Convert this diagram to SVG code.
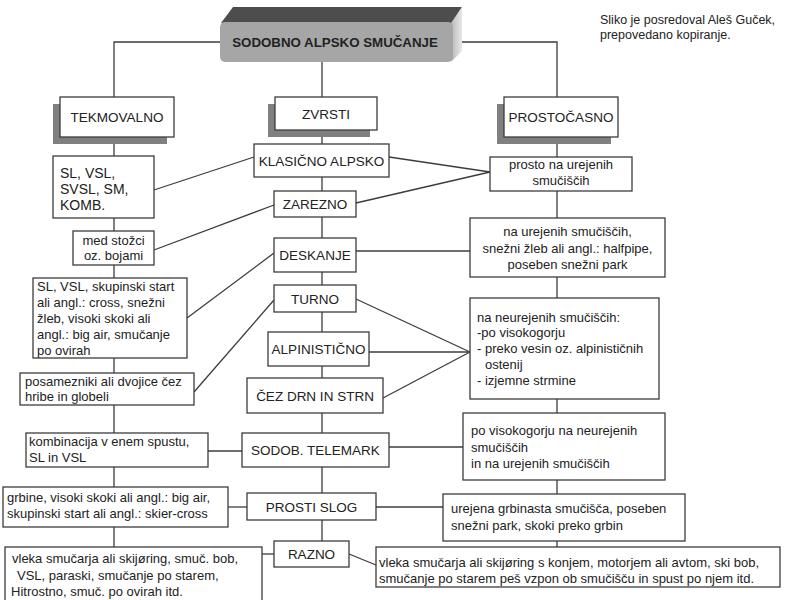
<svg xmlns="http://www.w3.org/2000/svg" width="796" height="600" viewBox="0 0 796 600">
<defs>
<linearGradient id="side" x1="0" y1="0" x2="1" y2="0">
<stop offset="0" stop-color="#b8b8b8"/><stop offset="1" stop-color="#e8e8e8"/>
</linearGradient>
<style>
.box{fill:#fff;stroke:#3c3c3c;stroke-width:1.3}
.sh{fill:#808080}
.c{fill:none;stroke:#3c3c3c;stroke-width:1.3}
text{font-family:"Liberation Sans",Arial,sans-serif;fill:#222}
.n{font-size:13.5px;text-anchor:middle}
.t{font-size:13px}
.m{font-size:13px;text-anchor:middle}
</style>
</defs>
<rect width="796" height="600" fill="#fff"/>
<g id="connectors">
<polyline class="c" points="220,42 114,42 114,97"/>
<polyline class="c" points="452,42 557,42 557,97"/>
<line class="c" x1="322" y1="62" x2="322" y2="97"/>
<line class="c" x1="114" y1="137" x2="114" y2="547"/>
<line class="c" x1="322" y1="130" x2="322" y2="541"/>
<line class="c" x1="557" y1="137" x2="557" y2="547"/>
<line class="c" x1="154" y1="190" x2="254" y2="157"/>
<line class="c" x1="154" y1="250" x2="274" y2="205"/>
<line class="c" x1="187" y1="318" x2="274" y2="253"/>
<line class="c" x1="194" y1="392" x2="274" y2="300"/>
<line class="c" x1="208" y1="451" x2="242" y2="451"/>
<line class="c" x1="228" y1="507" x2="247" y2="507"/>
<line class="c" x1="262" y1="554" x2="274" y2="554"/>
<line class="c" x1="389" y1="157" x2="490" y2="172"/>
<line class="c" x1="356" y1="203" x2="490" y2="172"/>
<line class="c" x1="356" y1="251" x2="470" y2="251"/>
<line class="c" x1="356" y1="299" x2="470" y2="352"/>
<line class="c" x1="369" y1="352" x2="470" y2="352"/>
<line class="c" x1="383" y1="398" x2="470" y2="352"/>
<line class="c" x1="389" y1="447" x2="463" y2="447"/>
<line class="c" x1="376" y1="507" x2="443" y2="507"/>
<line class="c" x1="349" y1="554" x2="376" y2="565"/>
</g>
<g id="root">
<polygon points="221,23 233,7 462,7 452,23" fill="#4d4d4d"/>
<polygon points="451,23 462,7 462,51 451,62" fill="url(#side)"/>
<rect x="220" y="22" width="233" height="40" rx="5" fill="#a6a6a6"/>
<text x="335" y="47" style="font-size:13.3px;font-weight:bold;text-anchor:middle">SODOBNO ALPSKO SMUČANJE</text>
</g>
<g id="watermark">
<text x="600" y="24" style="font-size:12.5px">Sliko je posredoval Aleš Guček,</text>
<text x="600" y="39" style="font-size:12.5px">prepovedano kopiranje.</text>
</g>
<g id="tekmovalno">
<rect class="sh" x="53" y="104" width="114" height="40"/>
<rect class="box" x="60" y="97" width="114" height="40"/>
<text class="n" x="117" y="122">TEKMOVALNO</text>
</g>
<g id="zvrsti">
<rect class="sh" x="268" y="104" width="102" height="33"/>
<rect class="box" x="275" y="97" width="102" height="33"/>
<text class="n" x="326" y="119">ZVRSTI</text>
</g>
<g id="prostocasno">
<rect class="sh" x="497" y="104" width="114" height="40"/>
<rect class="box" x="504" y="97" width="114" height="40"/>
<text class="n" x="561" y="122">PROSTOČASNO</text>
</g>
<g id="klasicno">
<rect class="box" x="254" y="144" width="135" height="33"/>
<text class="n" x="321.5" y="165.5">KLASIČNO ALPSKO</text>
</g>
<g id="zarezno">
<rect class="box" x="274" y="191" width="82" height="26"/>
<text class="n" x="315" y="209">ZAREZNO</text>
</g>
<g id="deskanje">
<rect class="box" x="274" y="238" width="82" height="34"/>
<text class="n" x="315" y="260">DESKANJE</text>
</g>
<g id="turno">
<rect class="box" x="274" y="285" width="82" height="27"/>
<text class="n" x="315" y="303.5">TURNO</text>
</g>
<g id="alpinisticno">
<rect class="box" x="268" y="332" width="101" height="34"/>
<text class="n" x="318.5" y="354">ALPINISTIČNO</text>
</g>
<g id="cez-drn">
<rect class="box" x="247" y="378" width="136" height="35"/>
<text class="n" x="315" y="400.5">ČEZ DRN IN STRN</text>
</g>
<g id="telemark">
<rect class="box" x="242" y="433" width="147" height="34"/>
<text class="n" x="315.5" y="455">SODOB. TELEMARK</text>
</g>
<g id="prosti-slog">
<rect class="box" x="247" y="493" width="129" height="27"/>
<text class="n" x="311.5" y="511.5">PROSTI SLOG</text>
</g>
<g id="razno">
<rect class="box" x="274" y="541" width="75" height="26"/>
<text class="n" x="311.5" y="559">RAZNO</text>
</g>
<g id="l-klasicno">
<rect class="box" x="53" y="156" width="101" height="62"/>
<text x="60" y="178" style="font-size:14px">SL, VSL,</text>
<text x="60" y="194" style="font-size:14px">SVSL, SM,</text>
<text x="60" y="210" style="font-size:14px">KOMB.</text>
</g>
<g id="l-zarezno">
<rect class="box" x="73" y="231" width="81" height="34"/>
<text class="m" x="113.5" y="245">med stožci</text>
<text class="m" x="113.5" y="260">oz. bojami</text>
</g>
<g id="l-deskanje">
<rect class="box" x="33" y="278" width="154" height="80"/>
<text class="t" x="37" y="291">SL, VSL, skupinski start</text>
<text class="t" x="37" y="307">ali angl.: cross, snežni</text>
<text class="t" x="37" y="323">žleb, visoki skoki ali</text>
<text class="t" x="37" y="339">angl.: big air, smučanje</text>
<text class="t" x="37" y="355">po ovirah</text>
</g>
<g id="l-turno">
<rect class="box" x="20" y="373" width="174" height="32"/>
<text class="t" x="25" y="386">posamezniki ali dvojice čez</text>
<text class="t" x="25" y="401">hribe in globeli</text>
</g>
<g id="l-telemark">
<rect class="box" x="26" y="433" width="182" height="34"/>
<text class="t" x="29" y="446">kombinacija v enem spustu,</text>
<text class="t" x="29" y="462">SL in VSL</text>
</g>
<g id="l-prosti">
<rect class="box" x="3" y="487" width="225" height="40"/>
<text class="t" x="7" y="502">grbine, visoki skoki ali angl.: big air,</text>
<text class="t" x="7" y="518">skupinski start ali angl.: skier-cross</text>
</g>
<g id="l-razno">
<rect class="box" x="5" y="547" width="257" height="60"/>
<text class="t" x="12" y="563">vleka smučarja ali skijøring, smuč. bob,</text>
<text class="t" x="17" y="580">VSL, paraski, smučanje po starem,</text>
<text class="t" x="11" y="596">Hitrostno, smuč. po ovirah  itd.</text>
</g>
<g id="r-klasicno">
<rect class="box" x="490" y="157" width="142" height="34"/>
<text class="m" x="561" y="169">prosto na urejenih</text>
<text class="m" x="561" y="185">smučiščih</text>
</g>
<g id="r-deskanje">
<rect class="box" x="470" y="218" width="195" height="59"/>
<text class="m" x="567.5" y="236">na urejenih smučiščih,</text>
<text class="m" x="567.5" y="253">snežni žleb ali angl.: halfpipe,</text>
<text class="m" x="567.5" y="269">poseben snežni park</text>
</g>
<g id="r-turno">
<rect class="box" x="470" y="298" width="189" height="101"/>
<text class="t" x="477" y="322">na neurejenih smučiščih:</text>
<text class="t" x="477" y="337">-po visokogorju</text>
<text class="t" x="477" y="353">- preko vesin oz. alpinističnih</text>
<text class="t" x="485" y="369">ostenij</text>
<text class="t" x="477" y="385">- izjemne strmine</text>
</g>
<g id="r-telemark">
<rect class="box" x="463" y="413" width="202" height="67"/>
<text class="t" x="471" y="435">po visokogorju na neurejenih</text>
<text class="t" x="471" y="452">smučiščih</text>
<text class="t" x="471" y="468">in na urejenih smučiščih</text>
</g>
<g id="r-prosti">
<rect class="box" x="443" y="494" width="242" height="47"/>
<text class="t" x="451" y="513">urejena grbinasta smučišča, poseben</text>
<text class="t" x="451" y="530">snežni park, skoki preko grbin</text>
</g>
<g id="r-razno">
<rect class="box" x="376" y="547" width="404" height="40"/>
<text class="t" x="379" y="567">vleka smučarja ali skijøring s konjem, motorjem ali avtom, ski bob,</text>
<text class="t" x="379" y="583">smučanje po starem peš vzpon ob smučišču in spust po njem itd.</text>
</g>
</svg>
